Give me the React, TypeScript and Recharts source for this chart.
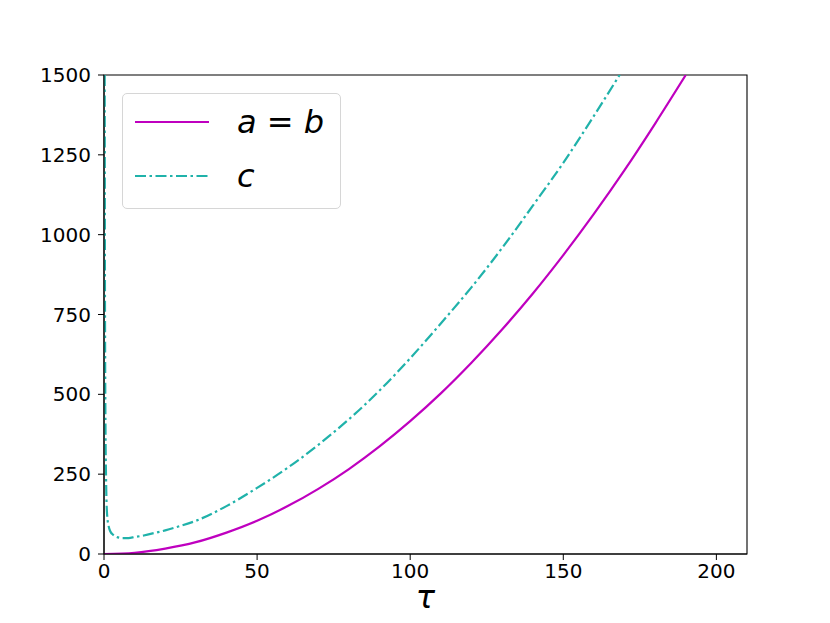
import React from "react";
import { LineChart, Line, XAxis, YAxis, ReferenceArea } from "recharts";

const tauA = [0, 10, 20, 30, 40, 50, 60, 70, 80, 90, 100, 110, 120, 130, 140, 150, 160, 170, 180, 190];
const aValues = [0, 4, 17, 37, 67, 104, 150, 204, 266, 337, 416, 503, 599, 703, 815, 936, 1065, 1202, 1348, 1500];

const tauC = [0.22, 0.3, 0.4, 0.5, 0.7, 1, 1.5, 2, 3, 4, 5, 6, 8, 10, 13, 17, 20, 25, 30, 40, 50, 60, 70, 80, 90, 100, 110, 120, 130, 140, 150, 160, 170];
const cValues = [1500, 900, 550, 380, 220, 125, 88, 72, 60, 54, 51, 50, 50, 53, 58, 67, 74, 88, 104, 150, 207, 270, 342, 422, 512, 613, 722, 835, 958, 1090, 1225, 1372, 1525];

const xTicks = [0, 50, 100, 150, 200];
const yTicks = [0, 250, 500, 750, 1000, 1250, 1500];

const seriesNames = ["a = b", "c"];

const dataA = tauA.map((t, i) => ({ tau: t, v: aValues[i] }));
const dataC = tauC.map((t, i) => ({ tau: t, v: cValues[i] }));

const FONT = "'DejaVu Sans', sans-serif";
const MAGENTA = "#bf00bf";
const TEAL = "#20b2aa";
const DASH = "11 3.5 2.5 3.5";

const tickStyle = { fill: "#000", fontSize: 20, fontFamily: FONT };

export default function App() {
  return (
    <div style={{ position: "relative", width: 814, height: 607 }}>
      <LineChart width={814} height={607} margin={{ top: 67, right: 75, bottom: 1, left: 36 }}>
        <XAxis
          dataKey="tau"
          type="number"
          domain={[0, 210]}
          ticks={xTicks}
          allowDataOverflow
          height={60}
          tickSize={6}
          tickMargin={4}
          tick={tickStyle}
          stroke="#000"
          label={{ value: "τ", position: "insideBottom", offset: 6, fontSize: 32, fontStyle: "italic", fontFamily: FONT, fill: "#000" }}
        />
        <YAxis
          type="number"
          domain={[0, 1500]}
          ticks={yTicks}
          allowDataOverflow
          width={60}
          tickSize={6}
          tickMargin={7}
          tick={tickStyle}
          stroke="#000"
        />
        <ReferenceArea x1={0} x2={210} y1={0} y2={1500} fill="none" stroke="#000" strokeWidth={1.1} />
        <Line data={dataA} dataKey="v" type="monotone" stroke={MAGENTA} strokeWidth={2.2} dot={false} isAnimationActive={false} />
        <Line data={dataC} dataKey="v" type="monotone" stroke={TEAL} strokeWidth={2.2} strokeDasharray={DASH} dot={false} isAnimationActive={false} />
      </LineChart>
      <div
        style={{
          position: "absolute",
          left: 114,
          top: 85,
          width: 217,
          height: 114,
          border: "1px solid #d6d6d6",
          borderRadius: 5,
          background: "rgba(255,255,255,0.8)",
          fontFamily: FONT,
          fontSize: 32,
        }}
      >
        {[MAGENTA, TEAL].map((color, i) => (
          <div key={i} style={{ position: "absolute", left: 12, top: i === 0 ? 10 : 64, height: 36, display: "flex", alignItems: "center" }}>
            <svg width={76} height={6} style={{ display: "block" }}>
              <line x1={0} y1={3} x2={74} y2={3} stroke={color} strokeWidth={2.2} strokeDasharray={i === 1 ? DASH : undefined} />
            </svg>
            <span style={{ marginLeft: 26, lineHeight: "36px", whiteSpace: "pre" }}>
              {i === 0 ? (
                <>
                  <i>a</i> = <i>b</i>
                </>
              ) : (
                <i>{seriesNames[1]}</i>
              )}
            </span>
          </div>
        ))}
      </div>
    </div>
  );
}
